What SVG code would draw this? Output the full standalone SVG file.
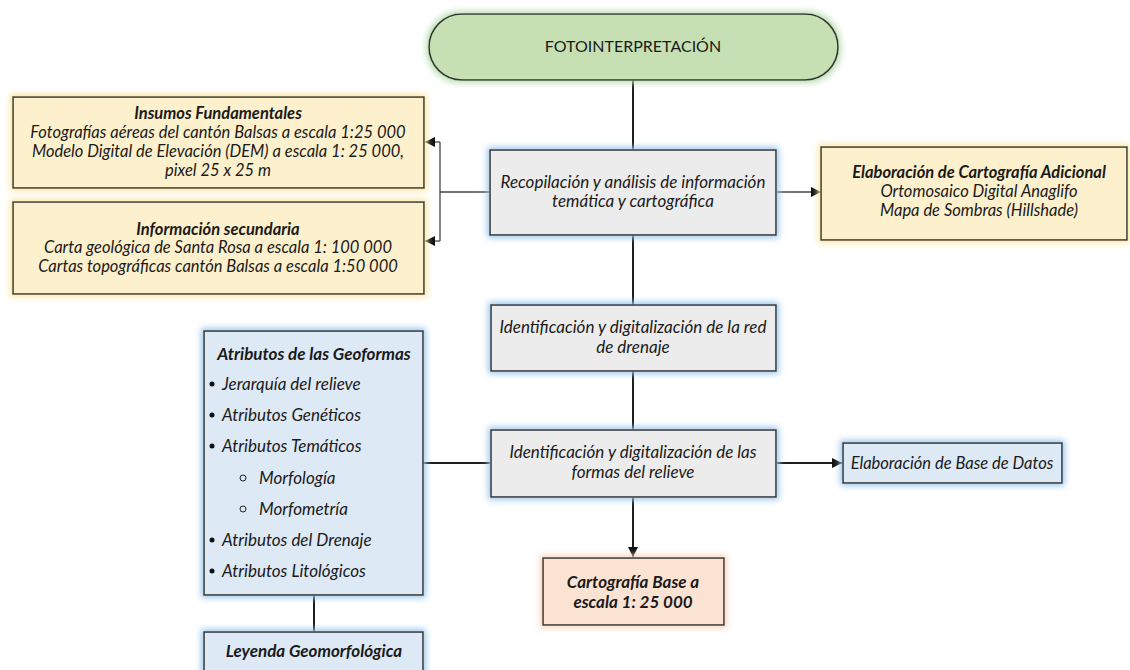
<svg xmlns="http://www.w3.org/2000/svg" width="1130" height="670" viewBox="0 0 1130 670">
<style>
.t{font-family:Lato,"Open Sans","Liberation Sans",sans-serif;font-size:16.5px;fill:#1a1a1a;text-anchor:middle}
.g{font-size:17px}
.i{font-style:italic}
.b{font-weight:bold;font-style:italic}
.box{stroke:#3a3a3a;stroke-width:1.6}
.gray{fill:#ececec}
.yel{fill:#fdf0cc}
.blue{fill:#dde9f5}
.peach{fill:#fbe3d4}
.ln{stroke:#1e1e1e;stroke-width:2;fill:none}
.thin{stroke:#444;stroke-width:1.3;fill:none}
.lt{font-family:Lato,"Open Sans","Liberation Sans",sans-serif;font-size:17px;fill:#1a1a1a;font-style:italic}
</style>
<defs>
<filter id="gB" x="-20%" y="-30%" width="140%" height="160%">
<feMorphology in="SourceAlpha" operator="dilate" radius="2" result="d"/>
<feGaussianBlur in="d" stdDeviation="3" result="b"/>
<feFlood flood-color="#9cc8ec"/>
<feComposite in2="b" operator="in" result="g"/>
<feMerge><feMergeNode in="g"/><feMergeNode in="SourceGraphic"/></feMerge>
</filter>
<filter id="gY" x="-20%" y="-30%" width="140%" height="160%">
<feMorphology in="SourceAlpha" operator="dilate" radius="2" result="d"/>
<feGaussianBlur in="d" stdDeviation="3" result="b"/>
<feFlood flood-color="#fbe7a0"/>
<feComposite in2="b" operator="in" result="g"/>
<feMerge><feMergeNode in="g"/><feMergeNode in="SourceGraphic"/></feMerge>
</filter>
<filter id="gG" x="-20%" y="-30%" width="140%" height="160%">
<feMorphology in="SourceAlpha" operator="dilate" radius="2" result="d"/>
<feGaussianBlur in="d" stdDeviation="3" result="b"/>
<feFlood flood-color="#b7dcae"/>
<feComposite in2="b" operator="in" result="g"/>
<feMerge><feMergeNode in="g"/><feMergeNode in="SourceGraphic"/></feMerge>
</filter>
<filter id="gP" x="-20%" y="-30%" width="140%" height="160%">
<feMorphology in="SourceAlpha" operator="dilate" radius="2" result="d"/>
<feGaussianBlur in="d" stdDeviation="3" result="b"/>
<feFlood flood-color="#f8d2bc"/>
<feComposite in2="b" operator="in" result="g"/>
<feMerge><feMergeNode in="g"/><feMergeNode in="SourceGraphic"/></feMerge>
</filter>
<marker id="ar" viewBox="0 0 10 10" refX="10" refY="5" markerWidth="5" markerHeight="5" orient="auto" markerUnits="strokeWidth">
<path d="M0,0 L10,5 L0,10 Z" fill="#111"/>
</marker>
<marker id="ar2" viewBox="0 0 10 10" refX="10" refY="5" markerWidth="8" markerHeight="8" orient="auto" markerUnits="strokeWidth">
<path d="M0,0 L10,5 L0,10 Z" fill="#111"/>
</marker>
</defs>
<rect width="1130" height="670" fill="#fff"/>

<g id="connectors">
<line class="ln" x1="633" y1="80" x2="633" y2="150"/>
<line class="ln" x1="633" y1="235" x2="633" y2="305"/>
<line class="ln" x1="633" y1="371" x2="633" y2="430"/>
<line class="ln" x1="633" y1="497" x2="633" y2="557" marker-end="url(#ar)"/>
<line class="thin" x1="490" y1="192" x2="440" y2="192"/>
<polyline class="thin" points="440,142 440,241"/>
<line class="thin" x1="440" y1="142" x2="425" y2="142" marker-end="url(#ar2)"/>
<line class="thin" x1="440" y1="241" x2="425" y2="241" marker-end="url(#ar2)"/>
<line class="thin" x1="776" y1="192" x2="821" y2="192" marker-end="url(#ar2)"/>
<line class="ln" x1="490" y1="463" x2="423" y2="463"/>
<line class="ln" x1="776" y1="463" x2="842" y2="463" marker-end="url(#ar)"/>
<line class="ln" x1="314" y1="595" x2="314" y2="632"/>
</g>

<g id="fotointerpretacion">
<rect x="429" y="14" width="409" height="66" rx="33" fill="#c6e0b4" stroke="#333" stroke-width="1.6" filter="url(#gG)"/>
<text class="t" x="633" y="52" style="font-size:16px">FOTOINTERPRETACIÓN</text>
</g>

<g id="insumos">
<rect class="box yel" x="13" y="97" width="411" height="91" filter="url(#gY)"/>
<text class="t b" x="218" y="119">Insumos Fundamentales</text>
<text class="t i" x="218" y="138">Fotografías aéreas del cantón Balsas a escala 1:25 000</text>
<text class="t i" x="218" y="157">Modelo Digital de Elevación (DEM) a escala 1: 25 000,</text>
<text class="t i" x="218" y="176">pixel 25 x 25 m</text>
</g>

<g id="info-secundaria">
<rect class="box yel" x="13" y="202" width="411" height="92" filter="url(#gY)"/>
<text class="t b" x="218" y="235">Información secundaria</text>
<text class="t i" x="218" y="253">Carta geológica de Santa Rosa a escala 1: 100 000</text>
<text class="t i" x="218" y="272">Cartas topográficas cantón Balsas a escala 1:50 000</text>
</g>

<g id="recopilacion">
<rect class="box gray" x="490" y="150" width="286" height="85" filter="url(#gB)"/>
<text class="t i g" x="633" y="188">Recopilación y análisis de información</text>
<text class="t i g" x="633" y="207">temática y cartográfica</text>
</g>

<g id="cartografia-adicional">
<rect class="box yel" x="821" y="147" width="306" height="93" filter="url(#gY)"/>
<text class="t b" x="979" y="178">Elaboración de Cartografía Adicional</text>
<text class="t i" x="979" y="197">Ortomosaico Digital Anaglifo</text>
<text class="t i" x="979" y="216">Mapa de Sombras (Hillshade)</text>
</g>

<g id="red-drenaje">
<rect class="box gray" x="491" y="305" width="285" height="66" filter="url(#gB)"/>
<text class="t i g" x="633" y="333">Identificación y digitalización de la red</text>
<text class="t i g" x="633" y="353">de drenaje</text>
</g>

<g id="formas-relieve">
<rect class="box gray" x="491" y="430" width="285" height="67" filter="url(#gB)"/>
<text class="t i g" x="633" y="458">Identificación y digitalización de las</text>
<text class="t i g" x="633" y="478">formas del relieve</text>
</g>

<g id="base-datos">
<rect class="box blue" x="843" y="443" width="219" height="40" filter="url(#gB)"/>
<text class="t i" x="952" y="469">Elaboración de Base de Datos</text>
</g>

<g id="cartografia-base">
<rect class="box peach" x="543" y="558" width="181" height="67" filter="url(#gP)"/>
<text class="t b g" x="633" y="588">Cartografía Base a</text>
<text class="t b g" x="633" y="608">escala 1: 25 000</text>
</g>

<g id="atributos">
<rect class="box blue" x="204" y="331" width="219" height="264" filter="url(#gB)"/>
<text class="t b g" x="314" y="360">Atributos de las Geoformas</text>
<circle cx="212" cy="384" r="2.5" fill="#111"/>
<text class="lt" x="222" y="390">Jerarquía del relieve</text>
<circle cx="212" cy="415" r="2.5" fill="#111"/>
<text class="lt" x="222" y="421">Atributos Genéticos</text>
<circle cx="212" cy="446" r="2.5" fill="#111"/>
<text class="lt" x="222" y="452">Atributos Temáticos</text>
<circle cx="243" cy="478" r="3" fill="none" stroke="#222" stroke-width="1"/>
<text class="lt" x="259" y="484">Morfología</text>
<circle cx="243" cy="509" r="3" fill="none" stroke="#222" stroke-width="1"/>
<text class="lt" x="259" y="515">Morfometría</text>
<circle cx="212" cy="540" r="2.5" fill="#111"/>
<text class="lt" x="222" y="546">Atributos del Drenaje</text>
<circle cx="212" cy="571" r="2.5" fill="#111"/>
<text class="lt" x="222" y="577">Atributos Litológicos</text>
</g>

<g id="leyenda">
<rect class="box blue" x="204" y="632" width="219" height="50" filter="url(#gB)"/>
<text class="t b g" x="314" y="657">Leyenda Geomorfológica</text>
</g>
</svg>
